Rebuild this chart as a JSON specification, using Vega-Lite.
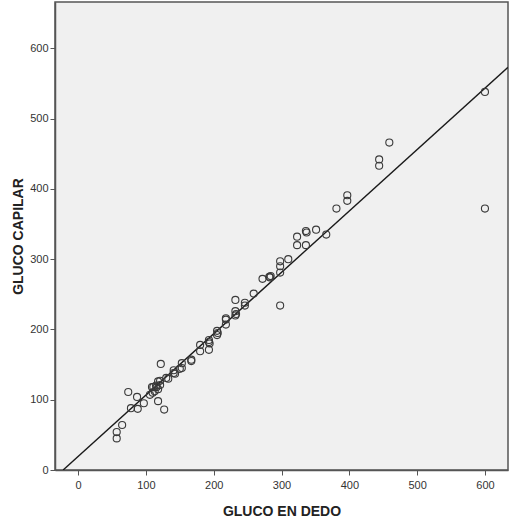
{
  "$schema": "https://vega.github.io/schema/vega-lite/v6.json",
  "width": 453,
  "height": 468,
  "autosize": {"type": "none"},
  "padding": {"left": 55, "top": 2, "right": 1, "bottom": 53},
  "background": "white",
  "config": {
    "view": {"fill": "#F0F0F0", "stroke": "#555555", "strokeWidth": 1.5},
    "font": "Liberation Sans",
    "axis": {
      "grid": false,
      "domainColor": "#555555",
      "domainWidth": 1.5,
      "tickColor": "#555555",
      "tickSize": 5,
      "labelFont": "Liberation Sans",
      "labelFontSize": 11,
      "labelColor": "#333333",
      "titleFont": "Liberation Sans",
      "titleFontSize": 14,
      "titleFontWeight": "bold",
      "titleColor": "#222222"
    }
  },
  "datasets": {
    "pts": [
      {"dedo": 600, "capilar": 538}, {"dedo": 600, "capilar": 372}, {"dedo": 459, "capilar": 466},
      {"dedo": 444, "capilar": 442}, {"dedo": 444, "capilar": 433}, {"dedo": 397, "capilar": 391},
      {"dedo": 397, "capilar": 383}, {"dedo": 381, "capilar": 372}, {"dedo": 366, "capilar": 335},
      {"dedo": 351, "capilar": 342}, {"dedo": 336, "capilar": 340}, {"dedo": 337, "capilar": 338},
      {"dedo": 336, "capilar": 320}, {"dedo": 323, "capilar": 332}, {"dedo": 323, "capilar": 320},
      {"dedo": 310, "capilar": 300}, {"dedo": 298, "capilar": 297}, {"dedo": 298, "capilar": 290},
      {"dedo": 298, "capilar": 281}, {"dedo": 298, "capilar": 234}, {"dedo": 284, "capilar": 276},
      {"dedo": 283, "capilar": 274}, {"dedo": 282, "capilar": 275}, {"dedo": 272, "capilar": 272},
      {"dedo": 259, "capilar": 251}, {"dedo": 246, "capilar": 238}, {"dedo": 246, "capilar": 234},
      {"dedo": 232, "capilar": 242}, {"dedo": 232, "capilar": 226}, {"dedo": 232, "capilar": 220},
      {"dedo": 233, "capilar": 222}, {"dedo": 218, "capilar": 216}, {"dedo": 218, "capilar": 214},
      {"dedo": 218, "capilar": 207}, {"dedo": 205, "capilar": 198}, {"dedo": 205, "capilar": 192},
      {"dedo": 206, "capilar": 195}, {"dedo": 193, "capilar": 185}, {"dedo": 193, "capilar": 182},
      {"dedo": 194, "capilar": 180}, {"dedo": 193, "capilar": 171}, {"dedo": 180, "capilar": 178},
      {"dedo": 180, "capilar": 169}, {"dedo": 167, "capilar": 157}, {"dedo": 167, "capilar": 155},
      {"dedo": 153, "capilar": 152}, {"dedo": 153, "capilar": 145}, {"dedo": 150, "capilar": 144},
      {"dedo": 143, "capilar": 137}, {"dedo": 141, "capilar": 142}, {"dedo": 141, "capilar": 138},
      {"dedo": 133, "capilar": 130}, {"dedo": 130, "capilar": 131}, {"dedo": 122, "capilar": 151},
      {"dedo": 121, "capilar": 127}, {"dedo": 121, "capilar": 121}, {"dedo": 118, "capilar": 126},
      {"dedo": 118, "capilar": 115}, {"dedo": 116, "capilar": 118}, {"dedo": 115, "capilar": 120},
      {"dedo": 113, "capilar": 112}, {"dedo": 111, "capilar": 118}, {"dedo": 110, "capilar": 110},
      {"dedo": 109, "capilar": 118}, {"dedo": 106, "capilar": 107}, {"dedo": 118, "capilar": 98},
      {"dedo": 127, "capilar": 86}, {"dedo": 97, "capilar": 95}, {"dedo": 88, "capilar": 87},
      {"dedo": 87, "capilar": 104}, {"dedo": 78, "capilar": 88}, {"dedo": 74, "capilar": 111},
      {"dedo": 65, "capilar": 64}, {"dedo": 57, "capilar": 54}, {"dedo": 57, "capilar": 45}
    ],
    "fit": [
      {"dedo": -22, "capilar": 0},
      {"dedo": 634, "capilar": 573}
    ]
  },
  "layer": [
    {
      "data": {"name": "fit"},
      "mark": {"type": "line", "color": "#1a1a1a", "strokeWidth": 1.4, "clip": true},
      "encoding": {
        "x": {"field": "dedo", "type": "quantitative"},
        "y": {"field": "capilar", "type": "quantitative"}
      }
    },
    {
      "data": {"name": "pts"},
      "mark": {"type": "point", "shape": "circle", "filled": false, "size": 50, "stroke": "#3a3a3a", "strokeWidth": 1.1, "opacity": 1},
      "encoding": {
        "x": {
          "field": "dedo", "type": "quantitative",
          "scale": {"domain": [-34, 634], "nice": false, "zero": false},
          "axis": {"values": [0, 100, 200, 300, 400, 500, 600], "title": "GLUCO EN DEDO", "titlePadding": 14, "labelPadding": 4}
        },
        "y": {
          "field": "capilar", "type": "quantitative",
          "scale": {"domain": [0, 666], "nice": false, "zero": false},
          "axis": {"values": [0, 100, 200, 300, 400, 500, 600], "title": "GLUCO CAPILAR", "titlePadding": 4, "labelPadding": 2}
        }
      }
    }
  ]
}
